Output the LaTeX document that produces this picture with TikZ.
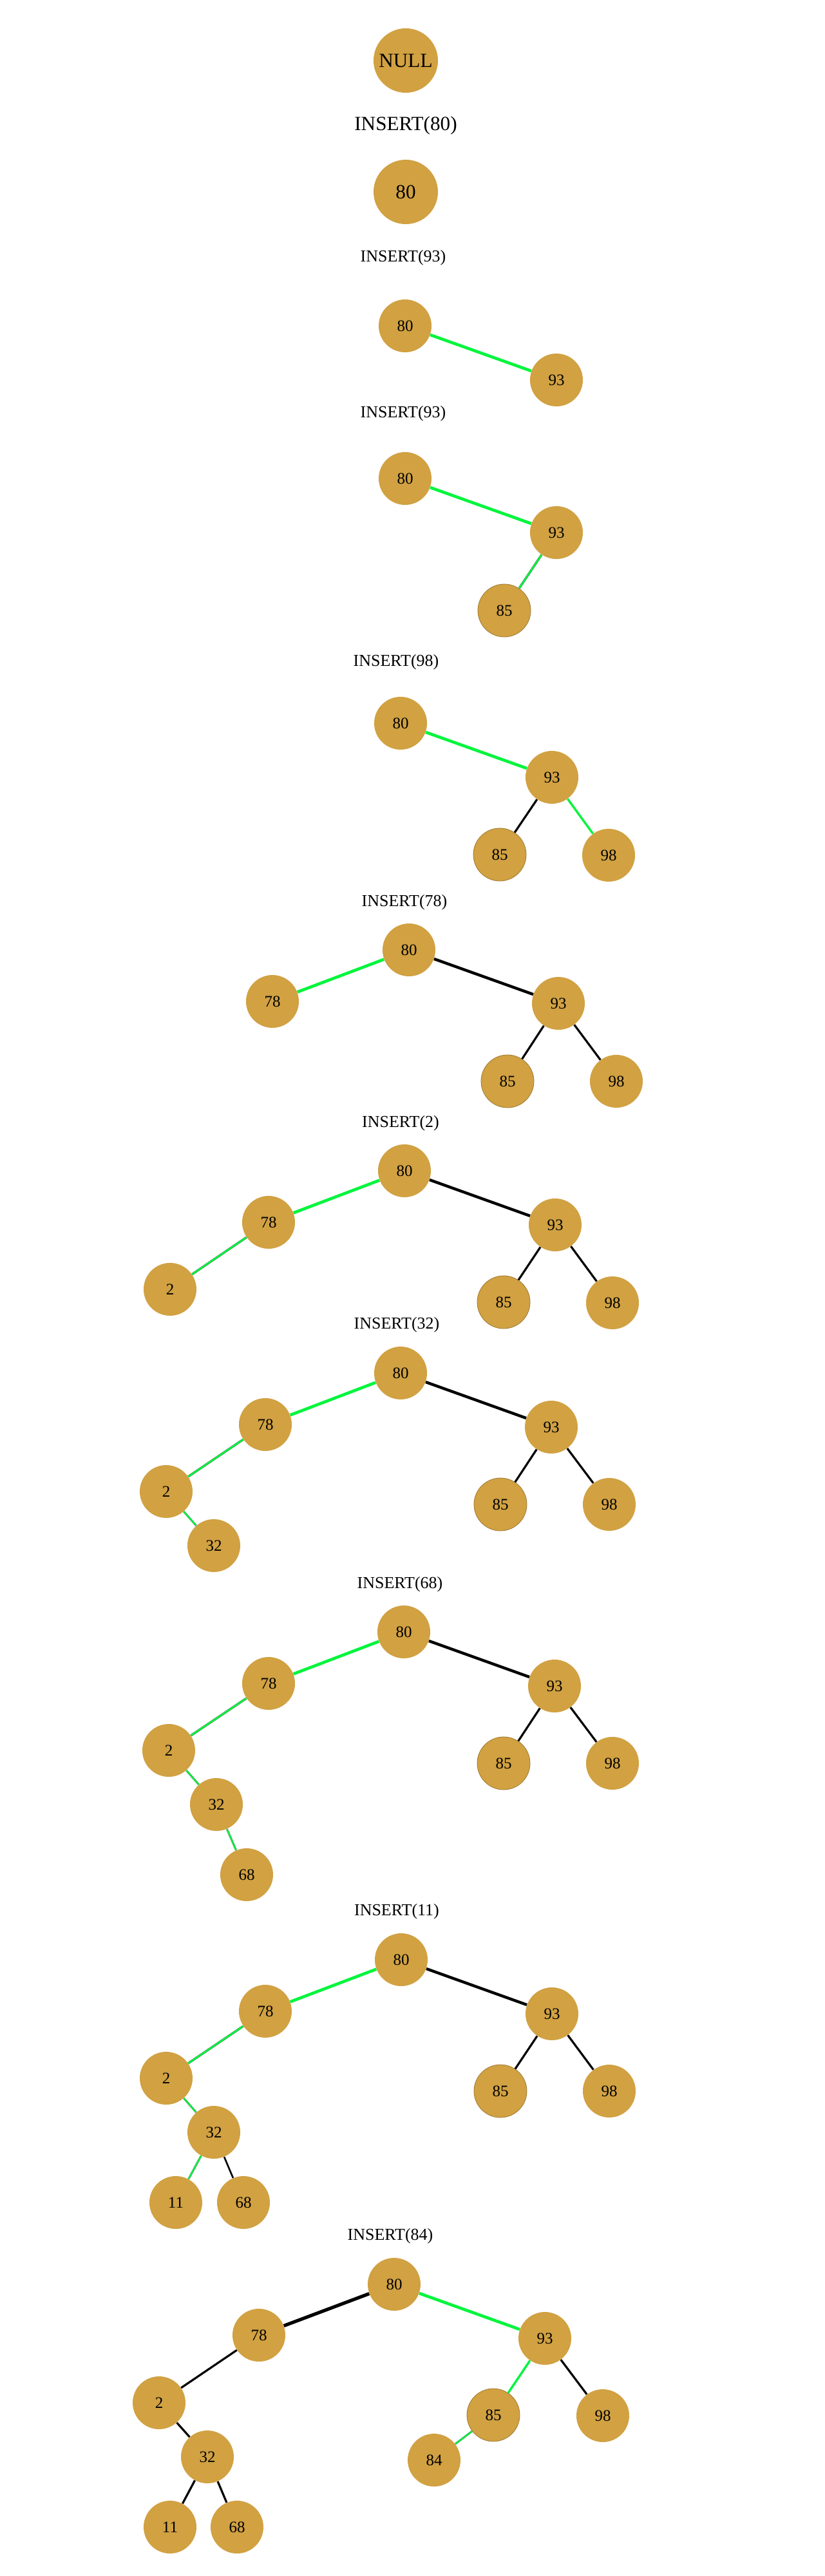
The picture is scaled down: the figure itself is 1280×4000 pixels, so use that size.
\documentclass[tikz,border=0pt]{standalone}
\usepackage{fontspec}
\setmainfont{Liberation Serif}
\definecolor{nodefill}{RGB}{209,161,66}
\definecolor{lgreen}{RGB}{0,245,60}
\tikzset{
  nd/.style={circle, fill=nodefill, minimum size=41pt, inner sep=0pt, font=\fontsize{12.5}{14}\selectfont},
  bignd/.style={nd, minimum size=50pt, font=\fontsize{15.6}{18}\selectfont},
  rim/.style={draw=black!25!nodefill, line width=0.4pt},
  lbl/.style={inner sep=0pt, font=\fontsize{13}{15}\selectfont},
  biglbl/.style={inner sep=0pt, font=\fontsize{15.6}{18}\selectfont},
  gA/.style={draw=lgreen, line width=2.3pt},
  gB/.style={draw=lgreen, line width=1.3pt, preaction={draw=black!55, line width=1.8pt}},
  gC/.style={draw=lgreen, line width=1.1pt, preaction={draw=black!55, line width=1.5pt}},
  kA/.style={draw=black, line width=2.2pt},
  kAA/.style={draw=black, line width=2.6pt},
  kB/.style={draw=black, line width=1.6pt},
  kC/.style={draw=black, line width=1.3pt},
}
\begin{document}
\begin{tikzpicture}[x=0.5pt,y=-0.5pt]
\fill[white] (0,0) rectangle (1280,4000);
\useasboundingbox (0,0) rectangle (1280,4000);
% Frame 1
\node[bignd] (anull) at (630,94) {NULL};
\node[biglbl] (la) at (630,195) {INSERT(80)};
\node[bignd] (a80) at (630,298) {80};
% Frame 2
\node[lbl] (lb) at (626,400) {INSERT(93)};
\node[nd] (b80) at (629,506) {80};
\node[nd] (b93) at (864,590) {93};
\draw[gA] (b80) -- (b93);
% Frame 3
\node[lbl] (lc) at (626,642) {INSERT(93)};
\node[nd] (c80) at (629,743) {80};
\node[nd] (c93) at (864,827) {93};
\node[nd,rim] (c85) at (783,948) {85};
\draw[gA] (c80) -- (c93);
\draw[gB] (c93) -- (c85);
% Frame 4
\node[lbl] (ld) at (615,1028) {INSERT(98)};
\node[nd] (d80) at (622,1123) {80};
\node[nd] (d93) at (857,1207) {93};
\node[nd,rim] (d85) at (776,1327) {85};
\node[nd] (d98) at (945,1328) {98};
\draw[gA] (d80) -- (d93);
\draw[kB] (d93) -- (d85);
\draw[gA,line width=1.7pt] (d93) -- (d98);
% Frame 5
\node[lbl] (le) at (628,1401) {INSERT(78)};
\node[nd] (e80) at (635,1475) {80};
\node[nd] (e78) at (423,1555) {78};
\node[nd] (e93) at (867,1558) {93};
\node[nd,rim] (e85) at (788,1679) {85};
\node[nd] (e98) at (957,1679) {98};
\draw[gA] (e80) -- (e78);
\draw[kA] (e80) -- (e93);
\draw[kB] (e93) -- (e85);
\draw[kB] (e93) -- (e98);
% Frame 6
\node[lbl] (lf) at (622,1744) {INSERT(2)};
\node[nd] (f80) at (628,1818) {80};
\node[nd] (f78) at (417,1898) {78};
\node[nd] (f93) at (862,1902) {93};
\node[nd] (f2) at (264,2002) {2};
\node[nd,rim] (f85) at (782,2022) {85};
\node[nd] (f98) at (951,2023) {98};
\draw[gA] (f80) -- (f78);
\draw[gB] (f78) -- (f2);
\draw[kA] (f80) -- (f93);
\draw[kB] (f93) -- (f85);
\draw[kB] (f93) -- (f98);
% Frame 7
\node[lbl] (lg) at (616,2057) {INSERT(32)};
\node[nd] (g80) at (622,2132) {80};
\node[nd] (g78) at (412,2212) {78};
\node[nd] (g93) at (856,2216) {93};
\node[nd] (g2) at (258,2316) {2};
\node[nd,rim] (g85) at (777,2336) {85};
\node[nd] (g98) at (946,2336) {98};
\node[nd] (g32) at (332,2400) {32};
\draw[gA] (g80) -- (g78);
\draw[gB] (g78) -- (g2);
\draw[gC] (g2) -- (g32);
\draw[kA] (g80) -- (g93);
\draw[kB] (g93) -- (g85);
\draw[kB] (g93) -- (g98);
% Frame 8
\node[lbl] (lh) at (621,2460) {INSERT(68)};
\node[nd] (h80) at (627,2534) {80};
\node[nd] (h78) at (417,2614) {78};
\node[nd] (h93) at (861,2618) {93};
\node[nd] (h2) at (262,2718) {2};
\node[nd,rim] (h85) at (782,2738) {85};
\node[nd] (h98) at (951,2738) {98};
\node[nd] (h32) at (336,2802) {32};
\node[nd] (h68) at (383,2911) {68};
\draw[gA] (h80) -- (h78);
\draw[gB] (h78) -- (h2);
\draw[gC] (h2) -- (h32);
\draw[gC] (h32) -- (h68);
\draw[kA] (h80) -- (h93);
\draw[kB] (h93) -- (h85);
\draw[kB] (h93) -- (h98);
% Frame 9
\node[lbl] (li) at (616,2968) {INSERT(11)};
\node[nd] (i80) at (623,3043) {80};
\node[nd] (i78) at (412,3123) {78};
\node[nd] (i93) at (857,3127) {93};
\node[nd] (i2) at (258,3227) {2};
\node[nd,rim] (i85) at (777,3247) {85};
\node[nd] (i98) at (946,3247) {98};
\node[nd] (i32) at (332,3311) {32};
\node[nd] (i11) at (273,3420) {11};
\node[nd] (i68) at (378,3420) {68};
\draw[gA] (i80) -- (i78);
\draw[gB] (i78) -- (i2);
\draw[gC] (i2) -- (i32);
\draw[gC] (i32) -- (i11);
\draw[kC] (i32) -- (i68);
\draw[kA] (i80) -- (i93);
\draw[kB] (i93) -- (i85);
\draw[kB] (i93) -- (i98);
% Frame 10
\node[lbl] (lj) at (606,3472) {INSERT(84)};
\node[nd] (j80) at (612,3547) {80};
\node[nd] (j78) at (402,3626) {78};
\node[nd] (j93) at (846,3631) {93};
\node[nd] (j2) at (247,3731) {2};
\node[nd,rim] (j85) at (766,3750) {85};
\node[nd] (j98) at (936,3751) {98};
\node[nd] (j32) at (322,3815) {32};
\node[nd] (j84) at (674,3820) {84};
\node[nd] (j11) at (264,3924) {11};
\node[nd] (j68) at (368,3924) {68};
\draw[kAA] (j80) -- (j78);
\draw[kB] (j78) -- (j2);
\draw[kB] (j2) -- (j32);
\draw[kB] (j32) -- (j11);
\draw[kB] (j32) -- (j68);
\draw[gA] (j80) -- (j93);
\draw[gA,line width=1.7pt] (j93) -- (j85);
\draw[gC] (j85) -- (j84);
\draw[kB] (j93) -- (j98);
\end{tikzpicture}
\end{document}
